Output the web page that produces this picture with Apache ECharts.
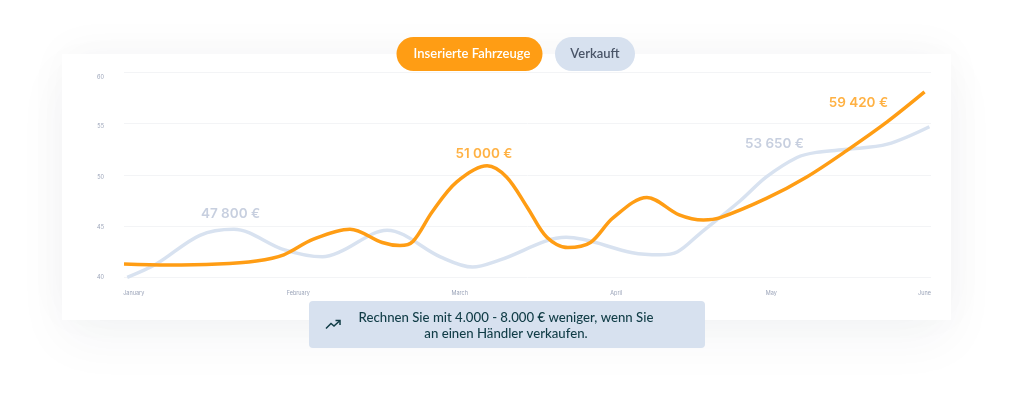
<!DOCTYPE html>
<html><head><meta charset="utf-8">
<style>
html,body{margin:0;padding:0;background:#fff;width:1013px;height:415px;overflow:hidden}
#card{position:absolute;left:62px;top:54px;width:889px;height:266px;background:#fff;box-shadow:0 20px 50px rgba(30,40,60,.045),0 -6px 40px rgba(30,40,60,.03)}
#c{position:absolute;left:0;top:0;width:1013px;height:415px}
</style>
<script src="https://cdn.jsdelivr.net/npm/echarts@6/dist/echarts.min.js"></script>
</head><body>
<div id="card"></div><div id="c"></div>
<script>
const months=['January','February','March','April','May','June'];
const monthLabelAt=[0.06,1.08,2.08,3.05,4.01,4.96];
const yTicks=[40,45,50,55,60];
const yLabelAt=[40,44.9,49.8,54.7,59.55];
const verkaufX=[.02,.20,.47,.68,.99,1.23,1.34,1.63,1.96,2.16,2.33,2.74,3.15,3.32,3.43,3.57,3.82,3.98,4.17,4.29,4.48,4.73,4.99];
const verkaufY=[40.0,41.3,44.1,44.7,42.7,42.0,42.5,44.6,42.0,41.0,41.7,43.9,42.4,42.2,42.5,44.3,47.5,49.8,51.7,52.2,52.5,53.0,54.7];
const inseriertX=[0,.27,.58,.82,.99,1.17,1.40,1.60,1.71,1.79,1.91,2.06,2.25,2.37,2.50,2.62,2.75,2.89,3.03,3.24,3.44,3.59,3.69,3.98,4.23,4.48,4.73,4.96];
const inseriertY=[41.3,41.2,41.3,41.6,42.2,43.7,44.7,43.4,43.1,43.5,46.4,49.3,50.9,49.8,46.8,43.9,42.9,43.4,45.8,47.8,46.1,45.6,45.8,47.7,49.8,52.4,55.2,58.1];
const greyCallouts=[[.66,46.2,'47 800 €'],[4.03,53.0,'53 650 €']];
const orangeCallouts=[[2.23,52.0,'51 000 €'],[4.55,57.0,'59 420 €']];
const pillNames=['Inserierte Fahrzeuge','Verkauft'];
const noteText='Rechnen Sie mit 4.000 - 8.000 € weniger, wenn Sie\nan einen Händler verkaufen.';

const ORANGE='#ff9d14',BLUE='#d8e2f0',GREY='#b9c3d7';
const zip=(a,b)=>a.map((x,i)=>[x,b[i]]);
const font='Inter, "Open Sans", sans-serif';
const callout=(data,color)=>({type:'scatter',data:data.map(d=>({value:[d[0],d[1]],name:d[2]})),symbolSize:0,silent:true,z:5,
  label:{show:true,position:'inside',formatter:p=>p.name,color,fontFamily:font,fontSize:13.5,fontWeight:600}});

const chart=echarts.init(document.getElementById('c'),null,{renderer:'canvas'});
chart.setOption({
  animation:false,backgroundColor:'transparent',
  grid:{left:124,right:82,top:72.5,bottom:137.7},
  xAxis:{type:'value',min:0,max:5,interval:1,
    axisLine:{show:false},axisTick:{show:false},splitLine:{show:false},
    axisLabel:{customValues:monthLabelAt,formatter:v=>months[Math.round(v)],fontSize:5.5,color:'#9aa3b8',margin:13,fontFamily:font}},
  yAxis:{type:'value',min:40,max:60,interval:5,
    axisLine:{show:false},axisTick:{show:false},
    splitLine:{show:true,lineStyle:{color:'#f3f4f6',width:1}},
    axisLabel:{customValues:yLabelAt,formatter:v=>String(yTicks[Math.round((v-40)/5)]),fontSize:5.5,color:'#9aa3b8',margin:20,fontFamily:font}},
  series:[
    {name:'Verkauft',type:'line',data:zip(verkaufX,verkaufY),smooth:.33,symbol:'none',lineStyle:{color:BLUE,width:3.5},z:2},
    {name:'Inserierte Fahrzeuge',type:'line',data:zip(inseriertX,inseriertY),smooth:.33,symbol:'none',lineStyle:{color:ORANGE,width:3.5},z:3},
    callout(greyCallouts,GREY),
    callout(orangeCallouts,ORANGE)
  ],
  graphic:[
    {type:'rect',z:100,shape:{x:396.5,y:37,width:146,height:34,r:17},style:{fill:ORANGE}},
    {type:'text',z:101,x:472,y:54,style:{text:pillNames[0],fill:'#fff',font:'600 13px Lato, sans-serif',align:'center',verticalAlign:'middle'}},
    {type:'rect',z:100,shape:{x:555,y:37,width:80,height:34,r:17},style:{fill:'#d7e1ef'}},
    {type:'text',z:101,x:595,y:54,style:{text:pillNames[1],fill:'#4a5568',font:'600 13px Lato, sans-serif',align:'center',verticalAlign:'middle'}},
    {type:'rect',z:100,shape:{x:309,y:301,width:396,height:47,r:4},style:{fill:'#d7e1ef'}},
    {type:'text',z:101,x:506,y:326,style:{text:noteText,fill:'#103c46',font:'500 13.2px Lato, sans-serif',align:'center',verticalAlign:'middle',lineHeight:16}},
    {type:'polyline',z:101,shape:{points:[[326,328.5],[331,323.5],[334,326],[339.5,321]]},style:{stroke:'#103c46',lineWidth:1.5,fill:null}},
    {type:'polyline',z:101,shape:{points:[[335.5,320.5],[340,320.5],[340,325]]},style:{stroke:'#103c46',lineWidth:1.5,fill:null}}
  ]
});
</script>
</body></html>
